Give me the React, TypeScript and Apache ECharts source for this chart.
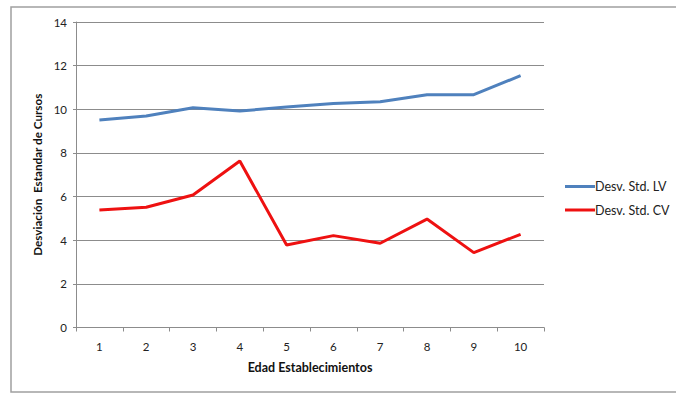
import React, { useEffect, useRef } from "react";
import * as echarts from "echarts";

// Edad de los establecimientos (años)
const categories = ["1", "2", "3", "4", "5", "6", "7", "8", "9", "10"];
// Desviación estándar de cursos, establecimientos LV
const desvLV = [9.51, 9.69, 10.07, 9.92, 10.1, 10.27, 10.35, 10.67, 10.67, 11.54];
// Desviación estándar de cursos, establecimientos CV
const desvCV = [5.38, 5.51, 6.07, 7.63, 3.78, 4.21, 3.86, 4.97, 3.43, 4.27];

const FONT = "Lato, 'Open Sans', sans-serif";
const GRID_COLOR = "#8c8c8c";
const FRAME_COLOR = "#a0a0a0";

export default function App() {
  const ref = useRef<HTMLDivElement>(null);

  useEffect(() => {
    if (!ref.current) return;
    const chart = echarts.init(ref.current, undefined, { renderer: "svg" });
    chart.setOption({
      animation: false,
      backgroundColor: "#ffffff",
      textStyle: { fontFamily: FONT },
      grid: { left: 76, top: 22, right: 132, bottom: 68.5, containLabel: false },
      graphic: [
        {
          type: "polyline",
          shape: { points: [[700, 7], [11, 7], [11, 392], [700, 392]] },
          style: { stroke: FRAME_COLOR, lineWidth: 1.5, fill: "none" },
          silent: true,
        },
      ],
      legend: {
        orient: "vertical",
        left: 560,
        top: 175,
        itemWidth: 30,
        itemHeight: 3,
        itemGap: 10.5,
        icon: "rect",
        textStyle: { fontFamily: FONT, fontSize: 12.5, color: "#222", padding: [0, 0, 0, -5] },
        data: ["Desv. Std. LV", "Desv. Std. CV"],
      },
      xAxis: {
        type: "category",
        data: categories,
        boundaryGap: true,
        name: "Edad Establecimientos",
        nameLocation: "middle",
        nameGap: 33,
        nameTextStyle: { fontFamily: FONT, fontSize: 12.5, fontWeight: "bold", color: "#111" },
        axisLine: { lineStyle: { color: GRID_COLOR, width: 1 } },
        axisTick: { show: true, alignWithLabel: false, length: 4, lineStyle: { color: GRID_COLOR } },
        axisLabel: { fontFamily: FONT, fontSize: 11.5, color: "#222", margin: 13 },
        splitLine: { show: false },
      },
      yAxis: {
        type: "value",
        min: 0,
        max: 14,
        interval: 2,
        name: "Desviación  Estandar de Cursos",
        nameLocation: "middle",
        nameGap: 33,
        nameRotate: 90,
        nameTextStyle: { fontFamily: FONT, fontSize: 11.7, fontWeight: "bold", color: "#111" },
        axisLine: { show: true, lineStyle: { color: GRID_COLOR, width: 1 } },
        axisTick: { show: true, length: 3, lineStyle: { color: GRID_COLOR } },
        axisLabel: { fontFamily: FONT, fontSize: 11.5, color: "#222", margin: 9 },
        splitLine: { show: true, lineStyle: { color: GRID_COLOR, width: 1 } },
      },
      series: [
        {
          name: "Desv. Std. LV",
          type: "line",
          data: desvLV,
          symbol: "none",
          color: "#4f81bd",
          lineStyle: { color: "#4f81bd", width: 3 },
        },
        {
          name: "Desv. Std. CV",
          type: "line",
          data: desvCV,
          symbol: "none",
          color: "#ee1111",
          lineStyle: { color: "#ee1111", width: 3 },
        },
      ],
    });
    return () => chart.dispose();
  }, []);

  return (
    <div
      ref={ref}
      style={{ position: "absolute", left: 0, top: 0, width: 676, height: 396 }}
    />
  );
}
